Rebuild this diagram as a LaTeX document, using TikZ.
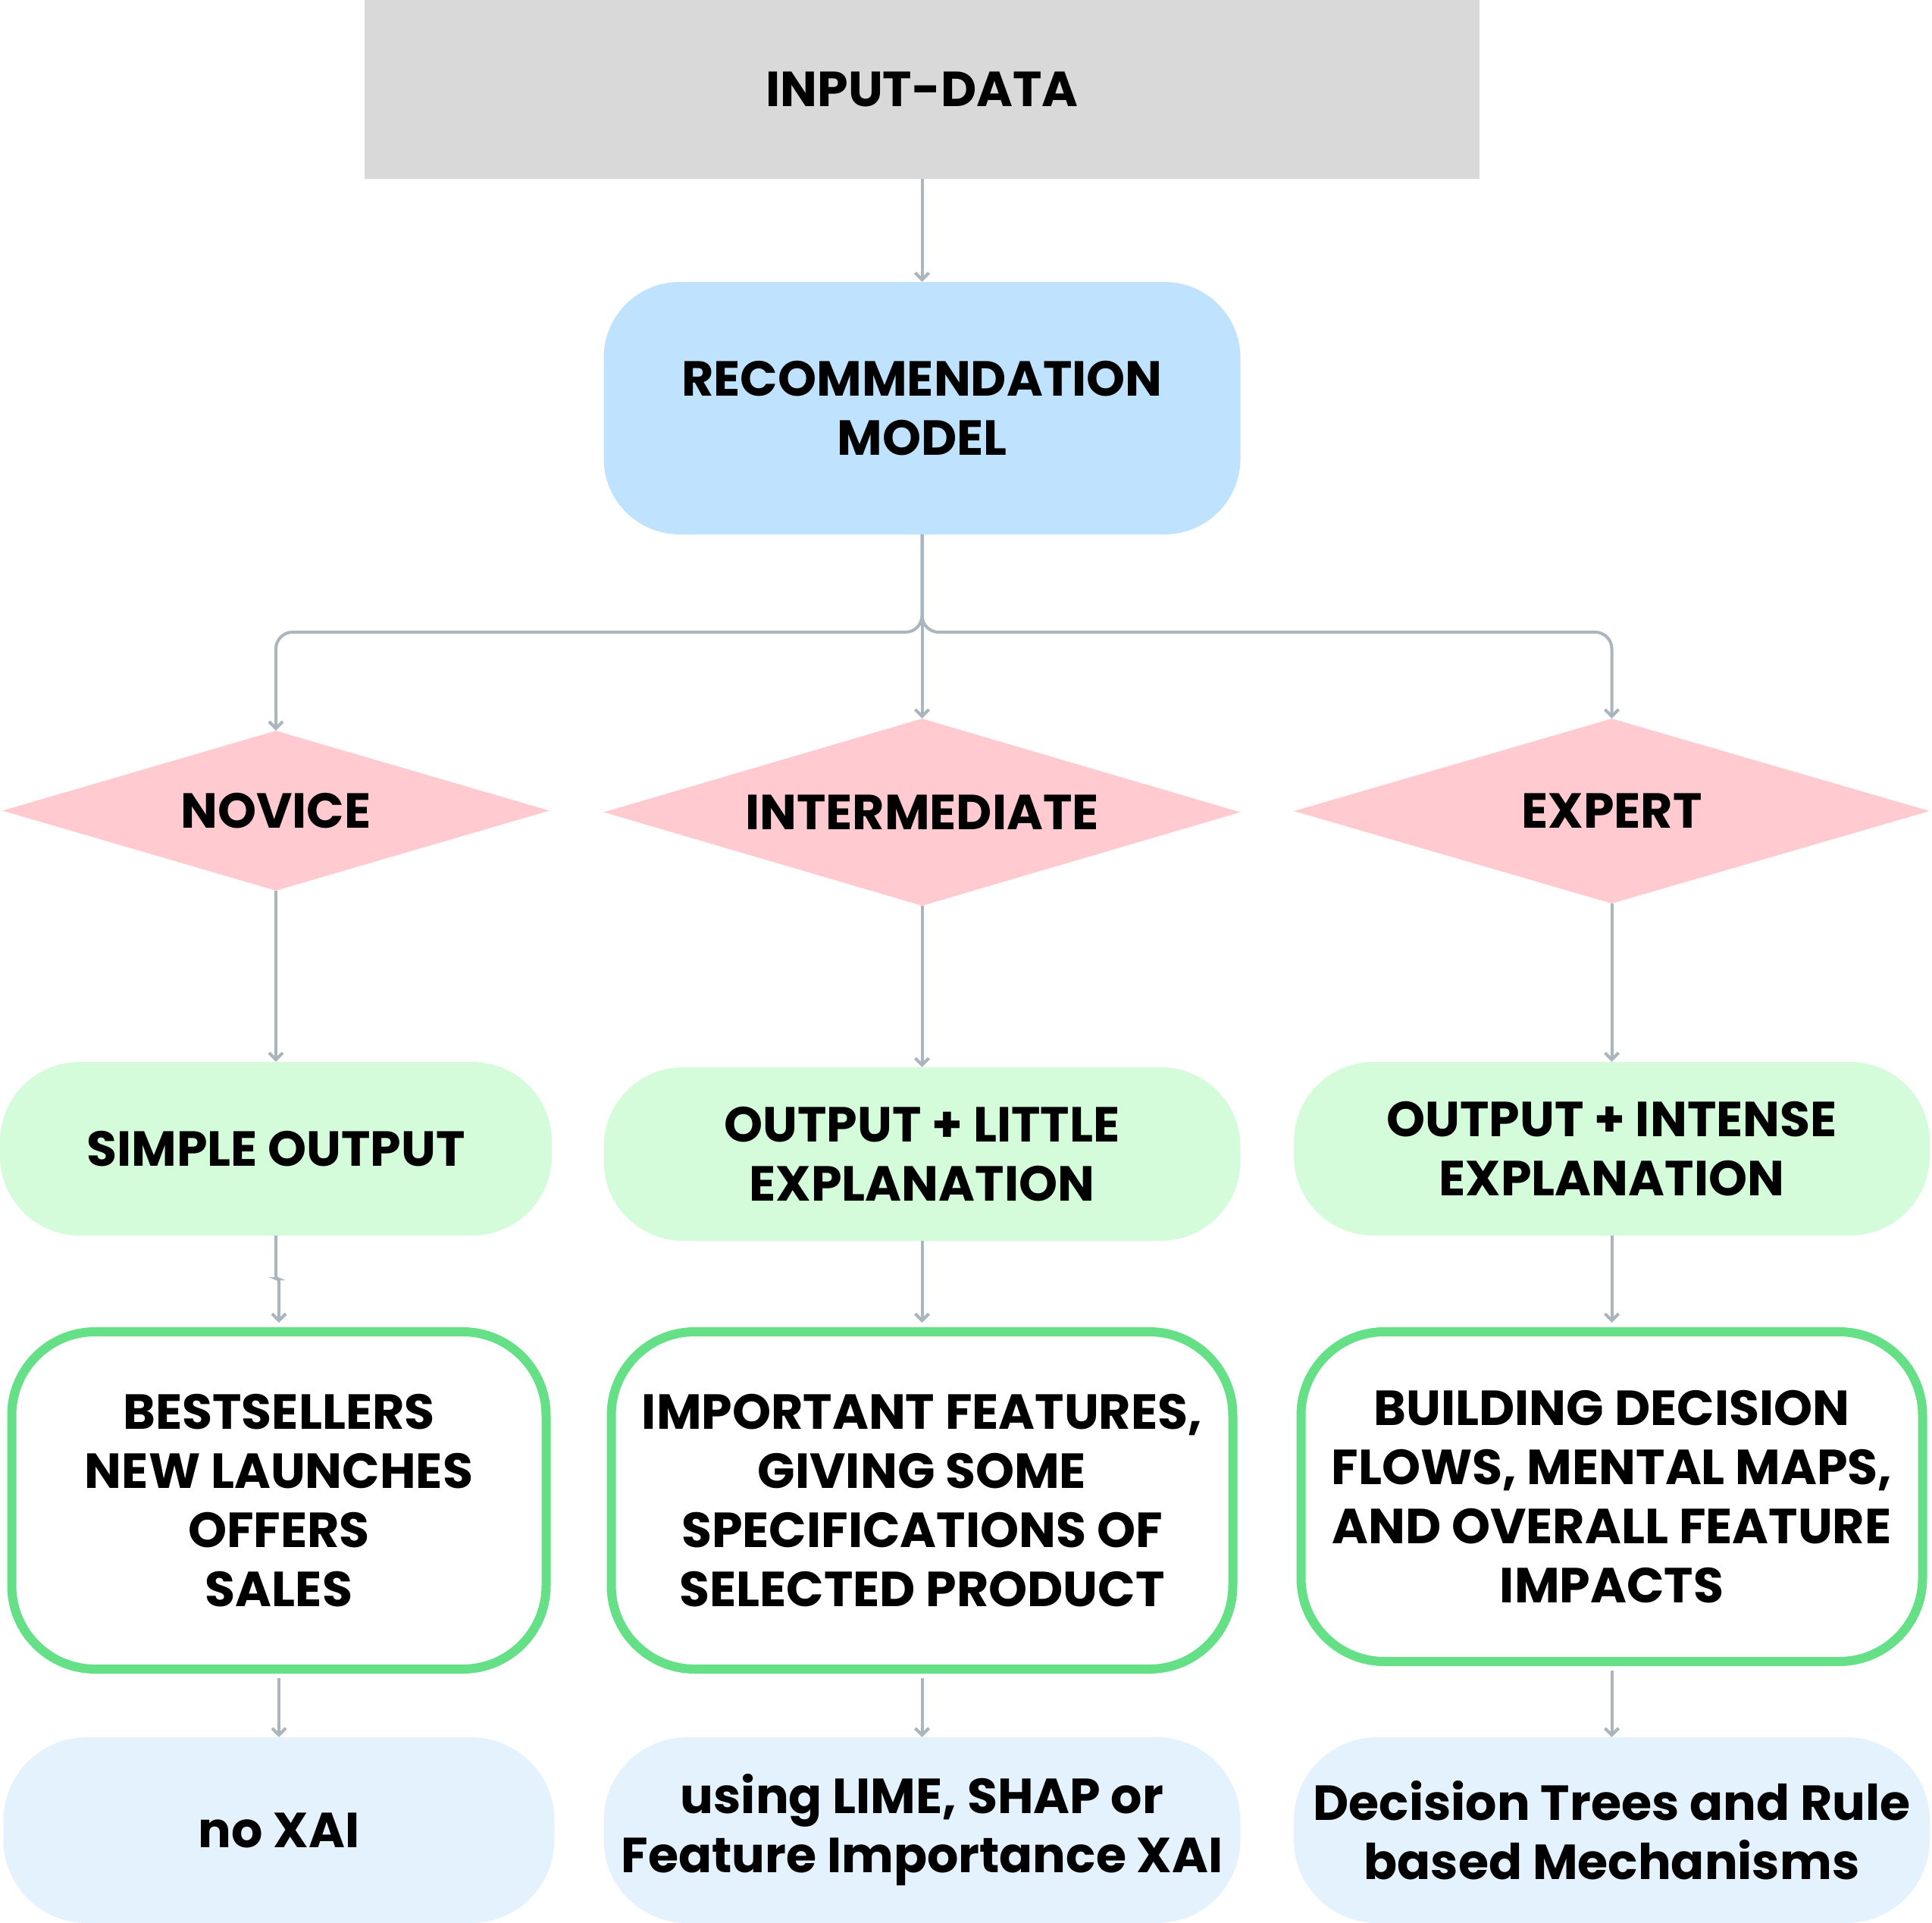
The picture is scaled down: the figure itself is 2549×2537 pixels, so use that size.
\documentclass[tikz,border=0pt]{standalone}
\usepackage{fontspec}
\setmainfont{Poppins}
\usetikzlibrary{shapes.geometric,arrows.meta}
\definecolor{inputgray}{HTML}{D9D9D9}
\definecolor{modelblue}{HTML}{BFE3FE}
\definecolor{diapink}{HTML}{FFCBD1}
\definecolor{outgreen}{HTML}{D4FCDA}
\definecolor{edgegreen}{HTML}{66E086}
\definecolor{xaiblue}{HTML}{E3F2FD}
\definecolor{linegray}{HTML}{AAB5BE}
\tikzset{
  txt/.style={font=\bfseries\fontsize{65}{78}\selectfont, align=center, text=black, inner sep=0pt},
  boxbase/.style={txt, rectangle, draw=none},
  inputbox/.style={boxbase, fill=inputgray, minimum width=1471pt, minimum height=236pt},
  modelbox/.style={boxbase, fill=modelblue, rounded corners=100pt, minimum width=840pt, minimum height=333pt},
  levelbox/.style={txt, diamond, fill=diapink, draw=none, aspect=3.4},
  outbox/.style={boxbase, fill=outgreen, rounded corners=105pt, minimum height=229pt},
  detailbox/.style={boxbase, fill=white, draw=edgegreen, line width=12pt, rounded corners=110pt, minimum width=705pt},
  xaibox/.style={boxbase, fill=xaiblue, rounded corners=110pt, minimum height=245pt},
  arr/.style={draw=linegray, line width=4pt, -{Straight Barb[length=9pt,width=18pt,line width=4pt]}},
  branch/.style={arr, rounded corners=22pt}
}
\begin{document}
\begin{tikzpicture}[x=1pt,y=-1pt]
\useasboundingbox (0,0) rectangle (2549,2537);
% row 1
\node[inputbox] (input) at (1216.5,118) {INPUT-DATA};
\node[modelbox] (model) at (1216.5,538.5) {RECOMMENDATION\\MODEL};
% diamonds
\node[levelbox, minimum width=722pt, minimum height=211pt] (novice) at (364,1069.5) {NOVICE};
\node[levelbox, minimum width=840pt, minimum height=247pt] (inter) at (1216.5,1071.5) {INTERMEDIATE};
\node[levelbox, minimum width=839pt, minimum height=244pt] (expert) at (2126.5,1070) {EXPERT};
% outputs
\node[outbox, minimum width=728pt] (simple) at (364,1515.5) {SIMPLE OUTPUT};
\node[outbox, minimum width=840pt] (little) at (1216.5,1522.5) {OUTPUT + LITTLE\\EXPLANATION};
\node[outbox, minimum width=839pt] (intense) at (2126.5,1515.5) {OUTPUT + INTENSE\\EXPLANATION};
% details
\node[detailbox, minimum height=445pt] (bests) at (368,1979.5) {BESTSELLERS\\NEW LAUNCHES\\OFFERS\\SALES};
\node[detailbox, minimum width=820pt, minimum height=445pt] (important) at (1216.5,1979.5) {IMPORTANT FEATURES,\\GIVING SOME\\SPECIFICATIONS OF\\SELECTED PRODUCT};
\node[detailbox, minimum width=820pt, minimum height=435pt] (building) at (2126.5,1974.5) {BUILDING DECISION\\FLOWS, MENTAL MAPS,\\AND OVERALL FEATURE\\IMPACTS};
% xai
\node[xaibox, minimum width=727pt] (noxai) at (368,2414.5) {no XAI};
\node[xaibox, minimum width=840pt] (lime) at (1216.5,2414.5) {using LIME, SHAP or\\Feature Importance XAI};
\node[xaibox, minimum width=839pt] (trees) at (2126.5,2414.5) {Decision Trees and Rule\\based Mechanisms};
% connectors
\coordinate (split) at (1216.5,834);
\draw[arr] (input.south) -- (model.north);
\draw[branch] (model.south) -- (split) -| (novice.north);
\draw[branch] (model.south) -- (split) -| (expert.north);
\draw[arr] (model.south) -- (inter.north);
\draw[arr] (novice.south) -- (simple.north);
\draw[arr] (inter.south) -- (little.north);
\draw[arr] (expert.south) -- (intense.north);
\draw[arr, rounded corners=3pt] (simple.south) -- ++(0,57) -| ([yshift=6pt]bests.north);
\draw[arr] (little.south) -- ([yshift=6pt]important.north);
\draw[arr] (intense.south) -- ([yshift=6pt]building.north);
\draw[arr] ([yshift=-6pt]bests.south) -- (noxai.north);
\draw[arr] ([yshift=-6pt]important.south) -- (lime.north);
\draw[arr] ([yshift=-6pt]building.south) -- (trees.north);
\end{tikzpicture}
\end{document}
